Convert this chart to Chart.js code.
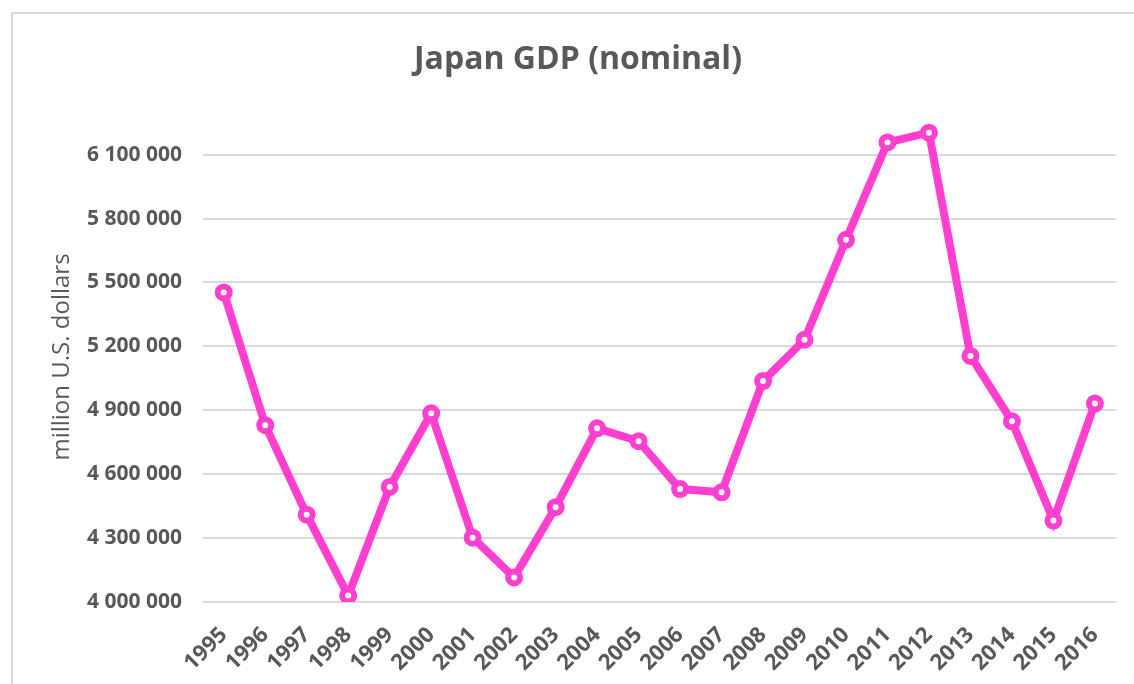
<!DOCTYPE html>
<html>
<head>
<meta charset="utf-8">
<script src="https://cdn.jsdelivr.net/npm/chart.js@4.4.1/dist/chart.umd.min.js"></script>
<style>
  html, body { margin: 0; padding: 0; background: #ffffff; overflow: hidden; }
  #frame { position: absolute; left: 11px; top: 12px; width: 1200px; height: 800px; border: 2px solid #d9d9d9; box-sizing: border-box; }
  #wrap { position: absolute; left: 0; top: 0; width: 1134px; height: 684px; }
</style>
</head>
<body>
<div id="frame"></div>
<div id="wrap"><canvas id="c" width="1134" height="684"></canvas></div>
<script>
const years = ['1995','1996','1997','1998','1999','2000','2001','2002','2003','2004','2005','2006','2007','2008','2009','2010','2011','2012','2013','2014','2015','2016'];
const gdp = [5453000, 4830000, 4410000, 4030000, 4540000, 4886000, 4302000, 4115000, 4445000, 4815000, 4755000, 4530000, 4515000, 5037000, 5231000, 5700000, 6157000, 6203000, 5155000, 4848000, 4382000, 4932000];
const yTicks = [4000000, 4300000, 4600000, 4900000, 5200000, 5500000, 5800000, 6100000];
const titleText = 'Japan GDP (nominal)';
const yTitle = 'million U.S. dollars';

const pink = '#ff3fcf';
const gray = '#595959';
const fmt = v => String(v).replace(/\B(?=(\d{3})+(?!\d))/g, ' ');

new Chart(document.getElementById('c'), {
  type: 'line',
  data: {
    labels: years,
    datasets: [{
      data: gdp,
      borderColor: pink,
      borderWidth: 8,
      pointRadius: 6,
      pointBorderWidth: 6,
      pointBackgroundColor: '#ffffff',
      pointBorderColor: pink,
      tension: 0,
      fill: false
    }]
  },
  options: {
    responsive: false,
    animation: false,
    devicePixelRatio: 1,
    layout: { padding: { left: 22, right: 0, top: 0, bottom: 0 } },
    plugins: {
      legend: { display: false },
      tooltip: { enabled: false },
      title: {
        display: true,
        text: titleText,
        color: gray,
        font: { family: 'Open Sans', size: 32, weight: 'bold', lineHeight: 1.2 },
        padding: { top: 41, bottom: 32.6 }
      }
    },
    scales: {
      x: {
        offset: true,
        grid: { display: false, drawTicks: false },
        border: { display: false },
        ticks: {
          color: gray,
          font: { family: 'Open Sans', size: 22, weight: 'bold' },
          maxRotation: 45, minRotation: 45,
          padding: 20,
          autoSkip: false
        },
        afterFit: s => { s.height = 82; }
      },
      y: {
        min: 4000000,
        max: 6300000,
        afterBuildTicks: s => { s.ticks = yTicks.map(v => ({ value: v })); },
        grid: { color: '#d9d9d9', lineWidth: 2, drawTicks: false },
        border: { display: false },
        ticks: {
          color: gray,
          font: { family: 'Open Sans', size: 21, weight: 'bold' },
          padding: 21,
          callback: v => fmt(v)
        },
        title: {
          display: true,
          text: yTitle,
          color: gray,
          font: { family: 'Open Sans', size: 24, weight: 'normal' },
          padding: { top: 26, bottom: 0 }
        },
        afterFit: s => { s.width = 181; }
      },
      yRight: {
        position: 'right',
        display: true,
        grid: { display: false, drawTicks: false },
        border: { display: false },
        ticks: { display: false },
        afterFit: s => { s.width = 17; }
      }
    }
  }
});
</script>
</body>
</html>
